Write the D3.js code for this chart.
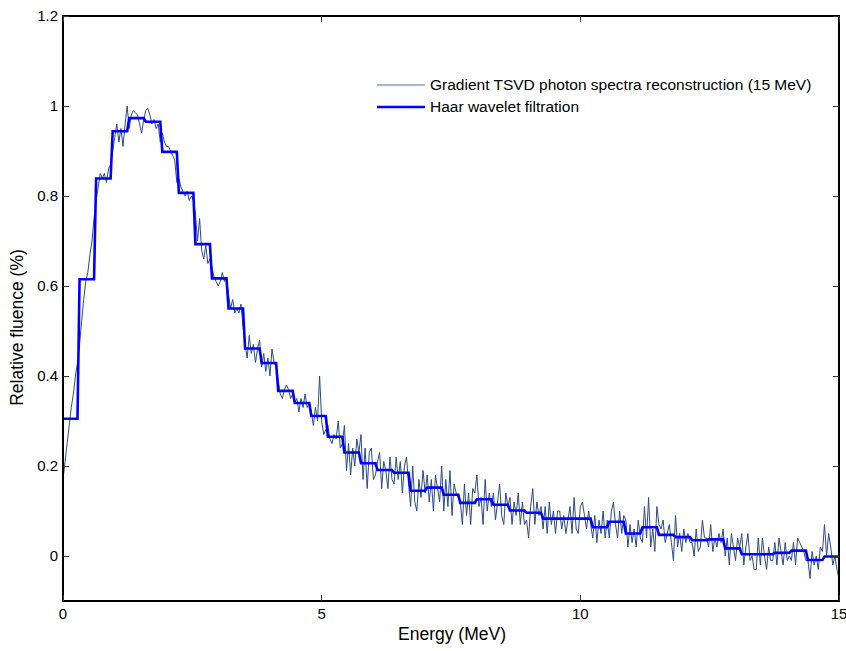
<!DOCTYPE html>
<html>
<head>
<meta charset="utf-8">
<script src="https://cdn.jsdelivr.net/npm/d3@7"></script>
<style>
body { margin: 0; background: #fff; }
text { font-family: "Liberation Sans", Arial, sans-serif; fill: #000; }
</style>
</head>
<body>
<svg id="chart" width="846" height="651"></svg>
<script>
// sample grid of the reconstruction (MeV)
var energyStart = 0, energyStep = 0.04;

// gradient TSVD reconstruction, 8 samples per row (one Haar block per row)
var tsvd = [
  0.17, 0.21, 0.25, 0.29, 0.33, 0.36, 0.40, 0.43,
  0.47, 0.52, 0.57, 0.61, 0.63, 0.67, 0.70, 0.75,
  0.79, 0.82, 0.85, 0.84, 0.85, 0.83, 0.86, 0.87,
  0.90, 0.93, 0.96, 0.92, 0.95, 0.91, 0.96, 1.00,
  0.95, 0.98, 0.99, 0.985, 0.98, 0.96, 0.94, 0.97,
  0.99, 0.995, 0.98, 0.96, 0.97, 0.95, 0.96, 0.92,
  0.94, 0.92, 0.91, 0.91, 0.90, 0.89, 0.88, 0.83,
  0.84, 0.82, 0.81, 0.80, 0.81, 0.79, 0.80, 0.79,
  0.76, 0.70, 0.75, 0.68, 0.66, 0.69, 0.65, 0.66,
  0.64, 0.62, 0.61, 0.60, 0.61, 0.63, 0.61, 0.62,
  0.58, 0.55, 0.57, 0.54, 0.55, 0.54, 0.56, 0.51,
  0.47, 0.44, 0.49, 0.45, 0.47, 0.43, 0.46, 0.48,
  0.42, 0.45, 0.41, 0.44, 0.40, 0.46, 0.43, 0.42,
  0.39, 0.36, 0.35, 0.37, 0.38, 0.37, 0.35, 0.36,
  0.34, 0.35, 0.32, 0.35, 0.33, 0.36, 0.33, 0.34,
  0.32, 0.29, 0.33, 0.30, 0.40, 0.30, 0.27, 0.28,
  0.29, 0.26, 0.25, 0.27, 0.26, 0.30, 0.24, 0.25,
  0.29, 0.19, 0.25, 0.18, 0.24, 0.20, 0.26, 0.23,
  0.27, 0.17, 0.24, 0.15, 0.23, 0.24, 0.17, 0.18,
  0.21, 0.23, 0.15, 0.21, 0.19, 0.15, 0.22, 0.17,
  0.16, 0.22, 0.17, 0.21, 0.14, 0.20, 0.22, 0.16,
  0.11, 0.20, 0.12, 0.10, 0.17, 0.13, 0.19, 0.14,
  0.18, 0.12, 0.17, 0.10, 0.18, 0.15, 0.12, 0.20,
  0.10, 0.17, 0.11, 0.19, 0.09, 0.16, 0.14, 0.13,
  0.12, 0.07, 0.16, 0.09, 0.14, 0.07, 0.15, 0.14,
  0.18, 0.11, 0.13, 0.07, 0.17, 0.10, 0.14, 0.11,
  0.14, 0.08, 0.12, 0.16, 0.09, 0.07, 0.14, 0.11,
  0.13, 0.07, 0.12, 0.09, 0.14, 0.07, 0.12, 0.07,
  0.08, 0.04, 0.11, 0.15, 0.07, 0.12, 0.09, 0.11,
  0.06, 0.11, 0.05, 0.12, 0.07, 0.10, 0.05, 0.10,
  0.10, 0.06, 0.09, 0.05, 0.08, 0.11, 0.05, 0.13,
  0.06, 0.05, 0.11, 0.12, 0.09, 0.06, 0.10, 0.07,
  0.04, 0.09, 0.03, 0.08, 0.05, 0.10, 0.04, 0.08,
  0.04, 0.10, 0.12, 0.07, 0.04, 0.10, 0.05, 0.09,
  0.08, 0.02, 0.07, 0.03, 0.06, 0.02, 0.08, 0.04,
  0.03, 0.11, 0.04, 0.13, 0.02, 0.06, 0.01, 0.11,
  0.07, 0.06, 0.08, 0.03, 0.05, 0.07, 0.03, -0.01,
  0.09, 0.02, 0.05, 0.01, 0.06, 0.03, 0.05, 0.03,
  0.03, 0.00, 0.06, 0.01, 0.02, 0.08, 0.04, 0.04,
  0.02, 0.07, 0.01, 0.04, 0.02, 0.05, 0.03, 0.06,
  0.00, 0.04, -0.02, 0.05, 0.02, -0.01, 0.04, 0.02,
  0.05, -0.02, 0.02, 0.05, -0.01, 0.00, -0.03, -0.03,
  0.04, -0.02, 0.04, 0.00, -0.03, 0.02, -0.01, -0.01,
  0.03, -0.02, 0.04, 0.01, -0.02, 0.03, -0.01, 0.00,
  -0.01, 0.03, -0.02, 0.04, 0.03, 0.02, 0.01, -0.01,
  -0.01, -0.05, 0.01, -0.02, 0.00, -0.03, 0.02, 0.01,
  0.07, 0.00, 0.05, 0.02, -0.02, 0.00, -0.03, -0.05
];

// Haar wavelet filtration: one level per block of 8 samples
var blockSize = 8;
var haarLevels = [
  0.305, 0.615, 0.839, 0.944, 0.973, 0.965, 0.898, 0.807,
  0.693, 0.617, 0.550, 0.461, 0.429, 0.367, 0.340, 0.311,
  0.265, 0.230, 0.206, 0.191, 0.185, 0.145, 0.152, 0.136,
  0.118, 0.126, 0.114, 0.101, 0.096, 0.083, 0.083, 0.083,
  0.064, 0.076, 0.050, 0.064, 0.047, 0.042, 0.035, 0.037,
  0.017, 0.004, 0.004, 0.007, 0.012, -0.009, -0.001
];

var xTicks = [0, 5, 10, 15];
var yTicks = [0, 0.2, 0.4, 0.6, 0.8, 1, 1.2];
var seriesNames = ["Gradient TSVD photon spectra reconstruction (15 MeV)", "Haar wavelet filtration"];

var svg = d3.select("#chart");
var plotLeft = 63, plotRight = 839, plotTop = 16, plotBottom = 601;

var x = d3.scaleLinear().domain([0, 15]).range([plotLeft, plotRight]);
var y = d3.scaleLinear().domain([-0.1, 1.2]).range([plotBottom, plotTop]);

var tsvdPts = tsvd.map(function (v, i) { return [energyStart + i * energyStep, v]; });
var haarPts = tsvd.map(function (v, i) { return [energyStart + i * energyStep, haarLevels[Math.floor(i / blockSize)]]; });

svg.append("clipPath").attr("id", "plotClip")
    .append("rect").attr("x", plotLeft).attr("y", plotTop)
    .attr("width", plotRight - plotLeft).attr("height", plotBottom - plotTop);

var line = d3.line().x(function (d) { return x(d[0]); }).y(function (d) { return y(d[1]); });

var plot = svg.append("g").attr("clip-path", "url(#plotClip)");

plot.append("path").datum(tsvdPts)
    .attr("d", line)
    .attr("fill", "none")
    .attr("stroke", "#2b4a86")
    .attr("stroke-width", 1)
    .attr("stroke-linejoin", "round");

plot.append("path").datum(haarPts)
    .attr("d", line)
    .attr("fill", "none")
    .attr("stroke", "#0000ff")
    .attr("stroke-width", 2.6)
    .attr("stroke-linejoin", "miter");

// axes box with inward ticks on all sides
var axes = svg.append("g").attr("shape-rendering", "crispEdges");

axes.append("rect")
    .attr("x", plotLeft).attr("y", plotTop)
    .attr("width", plotRight - plotLeft).attr("height", plotBottom - plotTop)
    .attr("fill", "none").attr("stroke", "#000").attr("stroke-width", 1.4);

axes.selectAll(".ytl").data(yTicks).enter().append("line")
    .attr("x1", plotLeft).attr("x2", plotLeft + 6)
    .attr("y1", function (d) { return y(d); }).attr("y2", function (d) { return y(d); })
    .attr("stroke", "#333");
axes.selectAll(".ytr").data(yTicks).enter().append("line")
    .attr("x1", plotRight).attr("x2", plotRight - 6)
    .attr("y1", function (d) { return y(d); }).attr("y2", function (d) { return y(d); })
    .attr("stroke", "#333");
axes.selectAll(".xtb").data(xTicks).enter().append("line")
    .attr("y1", plotBottom).attr("y2", plotBottom - 6)
    .attr("x1", function (d) { return x(d); }).attr("x2", function (d) { return x(d); })
    .attr("stroke", "#333");
axes.selectAll(".xtt").data(xTicks).enter().append("line")
    .attr("y1", plotTop).attr("y2", plotTop + 6)
    .attr("x1", function (d) { return x(d); }).attr("x2", function (d) { return x(d); })
    .attr("stroke", "#333");

var fmt = d3.format("~g");

svg.selectAll(".ylab").data(yTicks).enter().append("text")
    .attr("x", plotLeft - 5)
    .attr("y", function (d) { return y(d); })
    .attr("dy", "0.35em")
    .attr("text-anchor", "end")
    .attr("font-size", 15)
    .text(function (d) { return fmt(d); });

svg.selectAll(".xlab").data(xTicks).enter().append("text")
    .attr("x", function (d) { return x(d); })
    .attr("y", plotBottom + 18)
    .attr("text-anchor", "middle")
    .attr("font-size", 15)
    .text(function (d) { return fmt(d); });

svg.append("text")
    .attr("x", (plotLeft + plotRight) / 2 + 1)
    .attr("y", 640)
    .attr("text-anchor", "middle")
    .attr("font-size", 17.5)
    .text("Energy (MeV)");

svg.append("text")
    .attr("transform", "translate(23," + ((plotTop + plotBottom) / 2 + 19) + ") rotate(-90)")
    .attr("text-anchor", "middle")
    .attr("font-size", 17.5)
    .text("Relative fluence (%)");

// legend
var legendColors = ["#8a9cc0", "#0000ff"];
var legendWidths = [1.5, 2.6];
var legend = svg.selectAll(".leg").data(seriesNames).enter().append("g")
    .attr("transform", function (d, i) { return "translate(377," + (85 + i * 22) + ")"; });
legend.append("line")
    .attr("x1", 0).attr("x2", 48).attr("y1", 0).attr("y2", 0)
    .attr("stroke", function (d, i) { return legendColors[i]; })
    .attr("stroke-width", function (d, i) { return legendWidths[i]; });
legend.append("text")
    .attr("x", 53).attr("dy", "0.35em")
    .attr("font-size", 15.5)
    .text(function (d) { return d; });
</script>
</body>
</html>
